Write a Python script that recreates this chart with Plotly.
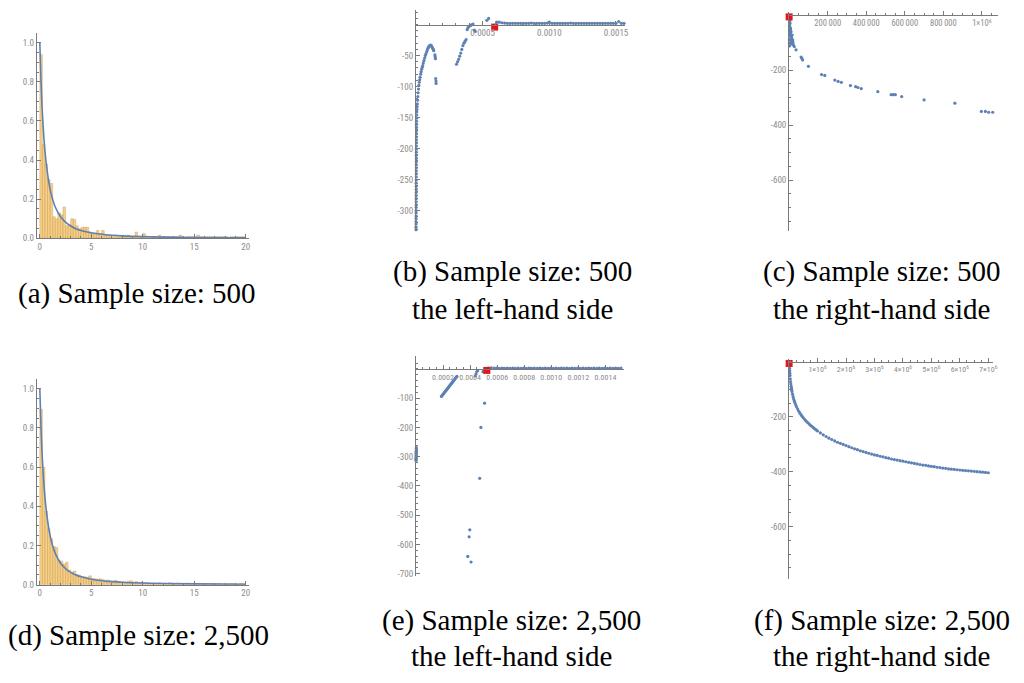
import plotly.graph_objects as go

W, H = 1024, 683
BLUE = "#5E81B5"
RED = "#E8141B"
AXIS_GRAY = "#7a7a7a"
LABEL_GRAY = "#8c8c8c"
TICK_FONT = "Roboto Condensed"
CAPTION_FONT = "Liberation Serif"

# ---------------------------------------------------------------- data
BIN_WIDTH = 0.25

# density histogram, sample size 500 (bins of width 0.25 starting at 0)
HIST_500 = [0.94, 0.48, 0.38, 0.30, 0.28, 0.11, 0.10, 0.13, 0.12, 0.16,
            0.064, 0.072, 0.10, 0.096, 0.064, 0.048, 0.056, 0.056, 0.056, 0.032,
            0.024, 0.024, 0.040, 0.024, 0.040, 0.016, 0.016, 0.016, 0.008, 0.016,
            0.008, 0.008, 0.008, 0.008, 0.016, 0.008, 0.008, 0.032, 0.008, 0.008,
            0.024, 0.008, 0.008, 0.008, 0.008, 0.008, 0.016, 0.008, 0.008, 0.008,
            0.008, 0.008, 0.008, 0.008, 0.016, 0.008, 0.0, 0.008, 0.008, 0.008,
            0.008, 0.016, 0.008, 0.008, 0.008, 0.008, 0.008, 0.008, 0.008, 0.008,
            0.008, 0.008, 0.008, 0.0, 0.008, 0.008, 0.008, 0.008, 0.008, 0.008]

# density histogram, sample size 2,500
HIST_2500 = [0.895, 0.60, 0.375, 0.285, 0.235, 0.195, 0.19, 0.125, 0.12, 0.105,
             0.115, 0.075, 0.065, 0.07, 0.052, 0.048, 0.042, 0.04, 0.038, 0.045,
             0.032, 0.03, 0.028, 0.03, 0.026, 0.022, 0.024, 0.02, 0.018, 0.022,
             0.016, 0.014, 0.014, 0.012, 0.018, 0.02, 0.012, 0.016, 0.01, 0.012,
             0.008, 0.01, 0.008, 0.006, 0.008, 0.006, 0.01, 0.006, 0.008, 0.006,
             0.01, 0.004, 0.006, 0.008, 0.006, 0.004, 0.006, 0.008, 0.004, 0.006,
             0.004, 0.006, 0.004, 0.006, 0.004, 0.004, 0.006, 0.004, 0.004, 0.006,
             0.004, 0.002, 0.004, 0.004, 0.006, 0.004, 0.002, 0.004, 0.006, 0.004]

# fitted density curve
DENS_X = [0, 0.1, 0.25, 0.5, 0.75, 1, 1.25, 1.5, 2, 2.5, 3, 3.5, 4, 5, 6, 7, 8, 10, 12, 15, 20]
DENS_Y = [1.0, 0.83, 0.64, 0.445, 0.33, 0.25, 0.198, 0.16, 0.111, 0.082, 0.0625, 0.049,
          0.04, 0.028, 0.0204, 0.0156, 0.0123, 0.0083, 0.0059, 0.0039, 0.0023]

# left-hand side, sample size 500
LHS_500 = [
    (0.5e-6, -331), (0.6e-6, -327), (0.7e-6, -322), (0.8e-6, -318), (0.9e-6, -313),
    (1.0e-6, -309), (1.1e-6, -304), (1.2e-6, -300), (1.3e-6, -295), (1.4e-6, -291),
    (1.5e-6, -286), (1.6e-6, -281), (1.7e-6, -276), (1.8e-6, -271), (1.9e-6, -266),
    (2.0e-6, -261), (2.1e-6, -256), (2.2e-6, -251), (2.3e-6, -246), (2.4e-6, -241),
    (2.5e-6, -236), (2.6e-6, -231), (2.7e-6, -226), (2.8e-6, -221), (2.9e-6, -216),
    (3.0e-6, -211), (3.1e-6, -206), (3.2e-6, -201), (3.3e-6, -196), (3.4e-6, -191),
    (3.5e-6, -186), (3.6e-6, -181), (3.7e-6, -176), (3.8e-6, -171), (4.0e-6, -166),
    (4.2e-6, -161), (4.5e-6, -156), (5.0e-6, -151), (5.5e-6, -146), (6.0e-6, -141),
    (7.0e-6, -137), (8.5e-6, -133), (1.0e-5, -128), (1.2e-5, -122), (1.4e-5, -116),
    (1.6e-5, -110), (1.9e-5, -104), (2.2e-5, -98), (2.5e-5, -93), (2.8e-5, -89),
    (3.1e-5, -85), (3.5e-5, -80), (3.9e-5, -76), (4.3e-5, -72), (4.7e-5, -69),
    (5.1e-5, -66), (5.5e-5, -62), (6.0e-5, -58), (6.5e-5, -54), (7.0e-5, -50),
    (7.5e-5, -47), (8.0e-5, -44), (8.5e-5, -41), (9.0e-5, -38), (9.5e-5, -36),
    (1.0e-4, -34.5), (1.05e-4, -33.5), (1.1e-4, -33), (1.15e-4, -34), (1.2e-4, -36),
    (1.25e-4, -38), (1.3e-4, -40), (1.33e-4, -42),
    (1.42e-4, -49), (1.44e-4, -52), (1.46e-4, -55),
    (1.48e-4, -87), (1.50e-4, -91), (1.51e-4, -95),
    (3.04e-4, -64), (3.12e-4, -60), (3.2e-4, -56), (3.28e-4, -51), (3.36e-4, -46),
    (3.44e-4, -40), (3.52e-4, -34), (3.6e-4, -30), (3.68e-4, -27), (3.76e-4, -24),
    (3.84e-4, -8), (3.90e-4, -5), (3.97e-4, -3), (4.05e-4, -2), (4.12e-4, -1),
    (4.20e-4, 0), (4.28e-4, 1), (4.38e-4, -9), (4.45e-4, -11),
    (5.32e-4, 7), (5.45e-4, 10),
    (6.05e-4, 4), (6.25e-4, 4), (6.45e-4, 3), (6.65e-4, 2.5), (6.85e-4, 2),
    (7.05e-4, 2), (7.25e-4, 2), (7.45e-4, 2), (7.65e-4, 2), (7.85e-4, 2),
    (8.05e-4, 2), (8.25e-4, 2), (8.45e-4, 2), (8.65e-4, 2.5), (8.85e-4, 2),
    (9.05e-4, 2), (9.25e-4, 2), (9.45e-4, 2), (9.65e-4, 2), (9.85e-4, 2.5),
    (1.0e-3, 4), (1.02e-3, 2), (1.04e-3, 2), (1.06e-3, 2), (1.08e-3, 2),
    (1.10e-3, 2), (1.12e-3, 2), (1.14e-3, 2), (1.16e-3, 2.5), (1.18e-3, 2),
    (1.20e-3, 2), (1.22e-3, 2), (1.24e-3, 2), (1.26e-3, 2), (1.28e-3, 2),
    (1.30e-3, 2), (1.32e-3, 2), (1.34e-3, 2), (1.36e-3, 2), (1.38e-3, 2),
    (1.40e-3, 2), (1.42e-3, 2), (1.44e-3, 2), (1.46e-3, 2), (1.48e-3, 2),
    (1.50e-3, 2), (1.52e-3, 5), (1.54e-3, 2), (1.56e-3, 2),
]
LHS_500_ROOT = (5.9e-4, -4)

# left-hand side, sample size 2,500
LHS_2500 = [
    (0.5e-6, -313), (0.8e-6, -309), (1.0e-6, -305), (1.2e-6, -301), (1.4e-6, -297),
    (1.6e-6, -293), (1.8e-6, -289), (2.0e-6, -285), (2.2e-6, -281), (2.4e-6, -277),
    (2.6e-6, -273), (2.8e-6, -269),
    (1.88e-4, -94), (1.93e-4, -91), (1.98e-4, -88), (2.03e-4, -85), (2.08e-4, -82),
    (2.13e-4, -79), (2.18e-4, -76), (2.23e-4, -73), (2.28e-4, -70), (2.33e-4, -67),
    (2.38e-4, -64), (2.43e-4, -61), (2.48e-4, -58), (2.53e-4, -55), (2.58e-4, -52),
    (2.63e-4, -49), (2.68e-4, -46), (2.73e-4, -43), (2.78e-4, -40), (2.83e-4, -37),
    (2.88e-4, -34), (2.93e-4, -31), (2.98e-4, -28), (3.03e-4, -25),
    (4.39e-4, -24), (4.44e-4, -17), (4.51e-4, -8), (4.56e-4, -6),
    (4.95e-4, -10), (5.0e-4, -6),
    (5.07e-4, -117), (4.8e-4, -200), (4.71e-4, -374),
    (3.98e-4, -550), (3.93e-4, -574), (3.83e-4, -641), (4.07e-4, -660),
    (5.35e-4, 3), (5.55e-4, 4), (5.75e-4, 3), (5.95e-4, 3), (6.15e-4, 2),
    (6.35e-4, 3), (6.55e-4, 2), (6.75e-4, 3), (6.95e-4, 2), (7.15e-4, 3),
    (7.35e-4, 2), (7.55e-4, 3), (7.75e-4, 2), (7.95e-4, 3), (8.15e-4, 2),
    (8.35e-4, 3), (8.55e-4, 2), (8.75e-4, 3), (8.95e-4, 2), (9.15e-4, 3),
    (9.35e-4, 2), (9.55e-4, 3), (9.75e-4, 2), (9.95e-4, 3), (1.015e-3, 2),
    (1.035e-3, 3), (1.055e-3, 2), (1.075e-3, 3), (1.095e-3, 2), (1.115e-3, 3),
    (1.135e-3, 2), (1.155e-3, 3), (1.175e-3, 2), (1.195e-3, 3), (1.215e-3, 2),
    (1.235e-3, 3), (1.255e-3, 2), (1.275e-3, 3), (1.295e-3, 2), (1.315e-3, 3),
    (1.335e-3, 2), (1.355e-3, 3), (1.375e-3, 2), (1.395e-3, 3), (1.415e-3, 2),
    (1.435e-3, 3), (1.455e-3, 2), (1.475e-3, 3), (1.495e-3, 2), (1.515e-3, 3),
]
LHS_2500_ROOT = (5.24e-4, -5)

# right-hand side, sample size 500
RHS_500 = [
    (500, -4), (1000, -12), (1500, -25), (2000, -38), (2500, -50), (3000, -62),
    (3500, -75), (1200, -90), (1800, -104), (2200, -112), (4000, -20), (5000, -30),
    (5500, -45), (6000, -58), (7000, -68), (8000, -50), (8500, -75), (9000, -85),
    (10000, -60), (11000, -95), (12000, -80), (13000, -100), (14000, -88),
    (15000, -105), (16000, -72), (17000, -95), (19000, -90), (20000, -100),
    (22000, -108), (27000, -114), (36000, -126), (62000, -152), (66000, -157),
    (70000, -163), (100000, -186), (168000, -216), (185000, -219), (237000, -236),
    (254000, -241), (271000, -244), (318000, -256), (345000, -260), (357000, -263),
    (374000, -267), (460000, -278), (529000, -289), (540000, -289), (551000, -289),
    (584000, -296), (700000, -308), (860000, -320), (997000, -350), (1018000, -350),
    (1035000, -353), (1056000, -353),
]
RHS_500_ROOT = (0, -6)

# right-hand side, sample size 2,500
RHS_2500 = [
    (5e3, -5), (1e4, -14), (1.5e4, -24), (2e4, -33), (2.5e4, -42), (3e4, -50),
    (4e4, -62), (5e4, -72), (6e4, -81), (7e4, -89), (8e4, -96), (9e4, -102),
    (1.0e5, -108), (1.2e5, -118), (1.4e5, -127), (1.6e5, -135), (1.8e5, -142),
    (2.0e5, -148), (2.3e5, -156), (2.6e5, -164), (3.0e5, -172), (3.4e5, -180),
    (3.8e5, -187), (4.2e5, -193), (4.6e5, -199), (5.0e5, -204), (5.5e5, -210),
    (6.0e5, -216), (6.5e5, -221), (7.0e5, -226), (7.5e5, -231), (8.0e5, -235),
    (8.5e5, -240), (9.0e5, -244), (9.5e5, -248), (1.0e6, -252), (1.1e6, -259),
    (1.2e6, -266), (1.3e6, -272), (1.4e6, -278), (1.5e6, -283), (1.6e6, -288),
    (1.7e6, -293), (1.8e6, -297), (1.9e6, -301), (2.0e6, -305), (2.1e6, -309),
    (2.2e6, -313), (2.3e6, -317), (2.4e6, -320), (2.5e6, -324), (2.6e6, -327),
    (2.7e6, -330), (2.8e6, -333), (2.9e6, -336), (3.0e6, -339), (3.1e6, -341),
    (3.2e6, -344), (3.3e6, -346), (3.4e6, -349), (3.5e6, -351), (3.6e6, -354),
    (3.7e6, -356), (3.8e6, -358), (3.9e6, -360), (4.0e6, -362), (4.1e6, -364),
    (4.2e6, -366), (4.3e6, -368), (4.4e6, -370), (4.5e6, -372), (4.6e6, -374),
    (4.7e6, -376), (4.8e6, -377), (4.9e6, -379), (5.0e6, -381), (5.1e6, -382),
    (5.2e6, -384), (5.3e6, -385), (5.4e6, -387), (5.5e6, -388), (5.6e6, -390),
    (5.7e6, -391), (5.8e6, -392), (5.9e6, -393), (6.0e6, -394), (6.1e6, -395),
    (6.2e6, -396), (6.3e6, -397), (6.4e6, -398), (6.5e6, -399), (6.6e6, -400),
    (6.7e6, -401), (6.8e6, -402), (6.9e6, -403), (7.0e6, -404),
]
RHS_2500_ROOT = (0, -6)

CAPTIONS = {
    "a": ["(a) Sample size: 500"],
    "b": ["(b) Sample size: 500", "the left-hand side"],
    "c": ["(c) Sample size: 500", "the right-hand side"],
    "d": ["(d) Sample size: 2,500"],
    "e": ["(e) Sample size: 2,500", "the left-hand side"],
    "f": ["(f) Sample size: 2,500", "the right-hand side"],
}

# ---------------------------------------------------------------- layout
# panel boxes in pixels: (left, right, top, bottom), plus axis ranges
PANELS = {
    "a": dict(box=(37, 250, 33, 240), xr=(-0.29, 20.29), yr=(0, 1.051)),
    "b": dict(box=(418, 628, 10, 232), xr=(0, 0.001567), yr=(-332, 23.7)),
    "c": dict(box=(793, 1003, 12, 233), xr=(0, 1.084e6), yr=(-786, 12)),
    "d": dict(box=(37, 250, 382, 589), xr=(-0.29, 20.29), yr=(0, 1.049)),
    "e": dict(box=(418, 627, 359, 580), xr=(0, 0.001537), yr=(-707, 43)),
    "f": dict(box=(793, 998, 362, 583), xr=(0, 7.17e6), yr=(-790, 9)),
}
ORDER = ["a", "b", "c", "d", "e", "f"]


def fx(p):
    return p / W


def fy(p):
    return 1 - p / H


def fmt_sci(v):
    return f"{v}\u00d710<sup>6</sup>"


TICKS = {
    "a": dict(x=([0, 5, 10, 15, 20], ["0", "5", "10", "15", "20"], 1),
              y=([0, 0.2, 0.4, 0.6, 0.8, 1.0], ["0.0", "0.2", "0.4", "0.6", "0.8", "1.0"], 0.05)),
    "d": dict(x=([0, 5, 10, 15, 20], ["0", "5", "10", "15", "20"], 1),
              y=([0, 0.2, 0.4, 0.6, 0.8, 1.0], ["0.0", "0.2", "0.4", "0.6", "0.8", "1.0"], 0.05)),
    "b": dict(x=([0.0005, 0.0010, 0.0015], ["0.0005", "0.0010", "0.0015"], 0.0001),
              y=([-50, -100, -150, -200, -250, -300],
                 ["-50", "-100", "-150", "-200", "-250", "-300"], 10)),
    "e": dict(x=([0.0002, 0.0004, 0.0006, 0.0008, 0.0010, 0.0012, 0.0014],
                 ["0.0002", "0.0004", "0.0006", "0.0008", "0.0010", "0.0012", "0.0014"], 0.00005),
              y=([-100, -200, -300, -400, -500, -600, -700],
                 ["-100", "-200", "-300", "-400", "-500", "-600", "-700"], 20)),
    "c": dict(x=([200000, 400000, 600000, 800000, 1000000],
                 ["200\u2009000", "400\u2009000", "600\u2009000", "800\u2009000", fmt_sci(1)], 50000),
              y=([-200, -400, -600], ["-200", "-400", "-600"], 50)),
    "f": dict(x=([1e6, 2e6, 3e6, 4e6, 5e6, 6e6, 7e6],
                 [fmt_sci(i) for i in range(1, 8)], 250000),
              y=([-200, -400, -600], ["-200", "-400", "-600"], 50)),
}
# horizontal tick-label sizes (the densely labelled axes use a smaller face)
XTICK_SIZE = {"a": 9, "b": 9, "c": 8.5, "d": 9, "e": 8, "f": 8}

fig = go.Figure()
layout = dict(
    width=W, height=H,
    margin=dict(l=0, r=0, t=0, b=0),
    paper_bgcolor="white", plot_bgcolor="white",
    showlegend=False,
)


def axis_style(vals, text, minor_step, rng, dom, size):
    return dict(
        range=list(rng), domain=list(dom), showline=True, linecolor=AXIS_GRAY, linewidth=1,
        ticks="inside", ticklen=4, tickwidth=1, tickcolor=AXIS_GRAY,
        tickmode="array", tickvals=vals, ticktext=text, tickangle=0,
        tickfont=dict(family=TICK_FONT, size=size, color=LABEL_GRAY),
        minor=dict(ticks="inside", ticklen=2, tickwidth=1, tickcolor=AXIS_GRAY,
                   tickmode="linear", tick0=0, dtick=minor_step, showgrid=False),
        showgrid=False, zeroline=False, fixedrange=True,
    )


for i, key in enumerate(ORDER, start=1):
    p = PANELS[key]
    l, r, t, b = p["box"]
    xdom = (fx(l), fx(r))
    ydom = (fy(b), fy(t))
    sfx = "" if i == 1 else str(i)
    xa, ya = "x" + sfx, "y" + sfx
    xv, xt, xm = TICKS[key]["x"]
    yv, yt, ym = TICKS[key]["y"]
    xax = axis_style(xv, xt, xm, p["xr"], xdom, XTICK_SIZE[key])
    yax = axis_style(yv, yt, ym, p["yr"], ydom, 9)
    y0, y1 = p["yr"]
    if y0 < 0:
        # horizontal axis drawn through y = 0
        xax.update(anchor="free", position=ydom[0] + (0 - y0) / (y1 - y0) * (ydom[1] - ydom[0]))
    else:
        xax.update(anchor=ya)
    yax.update(anchor=xa)
    layout["xaxis" + sfx] = xax
    layout["yaxis" + sfx] = yax

    if key in ("a", "d"):
        heights = HIST_500 if key == "a" else HIST_2500
        centers = [(k + 0.5) * BIN_WIDTH for k in range(len(heights))]
        fig.add_trace(go.Bar(
            x=centers, y=heights, width=BIN_WIDTH, xaxis=xa, yaxis=ya,
            marker=dict(color="rgba(246,190,90,0.75)",
                        line=dict(color="rgba(190,150,90,0.7)", width=0.5)),
        ))
        fig.add_trace(go.Scatter(
            x=DENS_X, y=DENS_Y, mode="lines", xaxis=xa, yaxis=ya,
            line=dict(color=BLUE, width=1.6, shape="spline"),
        ))
    else:
        pts, root = {
            "b": (LHS_500, LHS_500_ROOT),
            "c": (RHS_500, RHS_500_ROOT),
            "e": (LHS_2500, LHS_2500_ROOT),
            "f": (RHS_2500, RHS_2500_ROOT),
        }[key]
        fig.add_trace(go.Scatter(
            x=[q[0] for q in pts], y=[q[1] for q in pts], mode="markers",
            xaxis=xa, yaxis=ya, cliponaxis=False,
            marker=dict(color=BLUE, size=3.2, line=dict(width=0)),
        ))
        fig.add_trace(go.Scatter(
            x=[root[0]], y=[root[1]], mode="markers", xaxis=xa, yaxis=ya,
            cliponaxis=False,
            marker=dict(color=RED, size=7, symbol="square", line=dict(width=0)),
        ))

fig.update_layout(**layout)

# captions (centre x, baseline y per line, in pixels)
CAPTION_POS = {
    "a": (138, [306]),
    "b": (515, [284, 321]),
    "c": (886, [284, 321]),
    "d": (139, [650]),
    "e": (514, [635, 671]),
    "f": (886, [635, 671]),
}
annotations = []
for key, lines in CAPTIONS.items():
    cx, baselines = CAPTION_POS[key]
    for txt, base in zip(lines, baselines):
        annotations.append(dict(
            x=fx(cx), y=fy(base - 10), xref="paper", yref="paper",
            text=txt, showarrow=False, xanchor="center", yanchor="middle",
            font=dict(family=CAPTION_FONT, size=29, color="black"),
        ))
fig.update_layout(annotations=annotations)

fig.write_html("out.html")
